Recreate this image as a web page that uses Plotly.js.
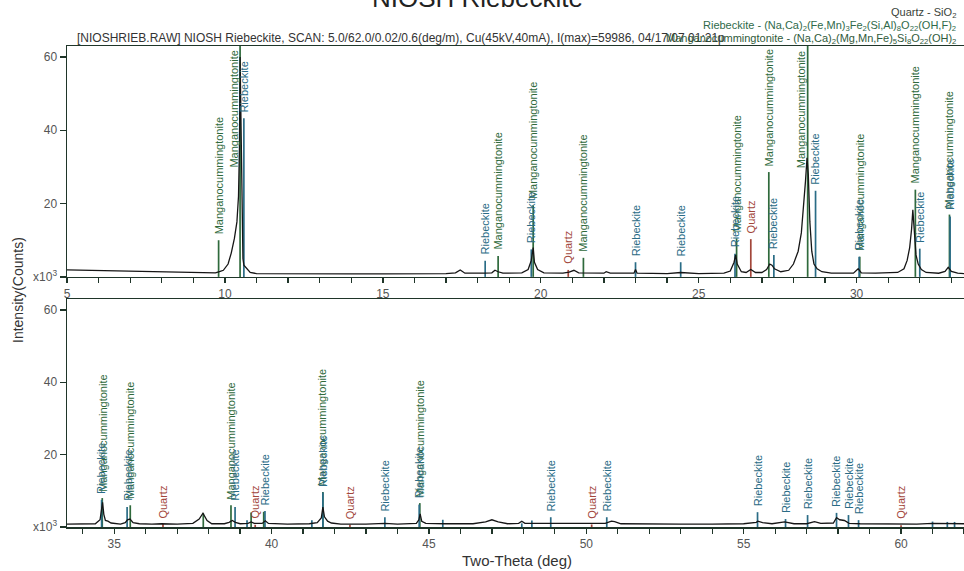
<!DOCTYPE html>
<html>
<head>
<meta charset="utf-8">
<script src="https://cdn.plot.ly/plotly-3.0.1.min.js"></script>
<style>html,body{margin:0;padding:0;background:#fff;}#chart{width:964px;height:571px;}</style>
</head>
<body>
<div id="chart"></div>
<script>
// Measured pattern: two-theta (deg) and intensity (x10^3 counts)
const tth = [5.0,6.0,7.0,8.0,9.0,9.7,9.85,9.95,10.1,10.2,10.3,10.38,10.43,10.46,10.48,10.51,10.54,10.57,10.6,10.66,10.72,10.8,11.0,12.0,13.0,14.0,15.0,16.0,17.0,17.3,17.45,17.6,18.0,18.22,18.45,18.55,18.65,18.8,19.4,19.6,19.7,19.76,19.8,19.9,20.1,20.7,20.9,21.05,21.2,21.5,22.0,22.07,22.2,22.95,23.0,23.05,24.0,24.43,25.0,25.8,26.0,26.12,26.17,26.22,26.35,26.5,26.65,26.8,27.0,27.15,27.25,27.32,27.4,27.6,27.85,28.0,28.15,28.25,28.32,28.38,28.43,28.47,28.52,28.58,28.65,28.75,28.9,29.2,29.5,29.9,30.05,30.15,30.6,31.0,31.3,31.5,31.6,31.68,31.74,31.78,31.82,31.88,31.95,32.05,32.2,32.6,32.8,32.9,33.0,33.2,33.5,34.0,34.4,34.55,34.6,34.63,34.67,34.72,34.8,34.9,35.2,35.35,35.42,35.5,35.6,35.8,36.2,36.5,37.0,37.5,37.7,37.82,37.95,38.1,38.5,38.65,38.75,38.85,39.0,39.25,39.35,39.45,39.7,39.8,39.9,40.5,41.2,41.45,41.58,41.63,41.68,41.78,41.9,42.2,43.0,43.6,44.0,44.6,44.68,44.72,44.77,44.9,45.5,46.4,46.8,47.0,47.2,47.5,47.85,47.95,48.05,48.3,48.87,49.5,50.2,50.6,50.8,50.9,51.1,52.0,53.0,54.0,55.0,55.4,55.45,55.6,55.9,56.3,56.4,56.6,57.0,57.25,57.45,57.85,57.95,58.05,58.2,58.35,58.7,59.5,60.5,61.0,61.5,62.0];
const cnt = [1.9,1.7,1.5,1.3,1.2,1.1,1.5,1.8,3.5,6.5,10.5,15,22,35,60,40,15,5,3.2,2.6,1.8,1.2,0.9,0.8,0.8,0.8,0.8,0.8,0.9,1.1,1.9,1.0,0.9,1.0,1.1,1.8,1.4,1.0,1.1,2.0,4.5,8,4,2.0,1.1,1.0,1.3,1.8,1.1,1.0,1.0,1.4,1.0,1.0,2.0,1.0,0.9,1.2,0.9,1.0,1.6,4,6,3.5,1.4,1.2,2.0,1.2,1.2,2.0,3.5,3.2,2.2,1.4,1.8,3.5,7,12,19,26,32.5,28,15,7,3.5,2.2,1.4,1.0,1.0,1.0,2.2,1.1,1.0,1.0,1.2,2.2,4.5,8,13,18.3,14,6,3.5,2.0,1.2,1.0,1.5,2.6,1.5,1.0,0.8,0.8,0.9,2.0,5,6.8,3.5,1.8,1.6,1.1,0.8,1.2,2.0,2.2,1.2,0.9,0.8,0.9,0.8,1.0,2.2,3.8,1.8,0.9,0.9,1.3,1.8,1.3,0.9,1.0,1.4,1.0,1.0,1.7,1.0,0.8,0.9,1.2,2.5,5.5,2.8,1.6,1.1,0.8,0.8,1.0,0.8,1.0,2.0,3.6,1.6,1.0,0.9,0.9,1.4,2.0,1.4,0.9,1.0,1.6,1.0,1.0,1.0,0.8,0.8,1.0,1.6,1.5,0.9,0.8,0.8,0.8,0.9,1.3,1.6,1.2,0.9,1.4,1.3,0.9,0.9,1.5,1.0,1.1,2.6,2.0,1.8,1.0,0.9,0.8,0.8,1.0,1.0,0.9];

// Reference stick patterns (two-theta, relative height in x10^3 scale, labelled?)
const mangTT  = [9.80,10.48,18.65,19.76,21.35,26.20,27.22,28.45,30.10,31.86,32.94,34.62,35.51,37.83,38.71,39.35,39.75,41.63,44.71];
const mangH   = [10,63,5.7,19.5,5.2,10.5,28.6,63,5.5,23.8,17,8,6,3.8,6,4,4.2,9.7,6.6];
const mangLab = [1,1,1,1,1,1,1,1,1,1,1,1,1,0,1,0,0,1,1];

const riebTT  = [10.60,18.24,19.70,23.00,24.43,26.15,27.38,28.70,30.08,32.00,32.96,34.60,35.41,38.84,39.22,39.79,41.28,41.63,43.60,44.69,45.44,47.95,48.27,48.87,50.65,55.44,56.33,57.03,57.95,58.33,58.65,61.00,61.47,61.70];
const riebH   = [43.3,4.4,7.5,4.0,4.0,6.3,6.0,23.5,5.5,7.7,16.5,7.5,5.5,5.5,1.9,4.4,1.9,9.5,2.7,6.2,2.0,1.0,1.8,2.7,2.7,4.1,2.2,3.3,3.9,3.3,1.9,1.5,1.4,1.4];
const riebLab = [1,1,1,1,1,1,1,1,1,1,1,1,1,1,0,1,0,1,1,1,0,0,0,1,1,1,1,1,1,1,1,0,0,0];

const qtzTT  = [20.87,26.65,36.55,39.48,42.49,50.17,60.00];
const qtzH   = [1.9,10.3,0.8,0.6,0.6,0.7,0.5];
const qtzLab = [1,1,1,1,1,1,1];

const xTickVals = [5,10,15,20,25,30,35,40,45,50,55,60];
const yTickVals = [0,20,40,60];
const yTickText = ['x10<sup>3</sup>','20','40','60'];

const FONT = 'Arial, "Liberation Sans", sans-serif';
const W = 964, H = 571, ML = 67, MR = 0, MT = 46, MB = 44;
const PH = H - MT - MB, PW = W - ML - MR;
const YMAX = 63;
const SPLIT = 33.45;
const panels = [
  {xa:'x', ya:'y', range:[5,33.4], dom:[0.52,1]},
  {xa:'x2', ya:'y2', range:[33.5,62], dom:[0,0.474]}
];

const phases = [
  {name:'Manganocummingtonite', tt:mangTT, h:mangH, lab:mangLab, color:'#2f6a3c', len:121},
  {name:'Riebeckite', tt:riebTT, h:riebH, lab:riebLab, color:'#2a6c86', len:51},
  {name:'Quartz', tt:qtzTT, h:qtzH, lab:qtzLab, color:'#a2463a', len:34}
];

const traces = [];
const annotations = [];
panels.forEach((p, pi) => {
  const ppu = (p.dom[1]-p.dom[0])*PH / YMAX;
  const panelPx = (p.dom[1]-p.dom[0])*PH;
  phases.forEach(ph => {
    const xs = [], ys = [];
    ph.tt.forEach((t, i) => {
      const inTop = t < SPLIT;
      if ((pi === 0) !== inTop) return;
      xs.push(t, t, null); ys.push(0, ph.h[i], null);
      if (ph.lab[i]) {
        let yv = ph.h[i], xs_ = 0;
        if (ph.h[i]*ppu + 4 + ph.len > panelPx) { yv = YMAX - (ph.len+3)/ppu; xs_ = -7; }
        annotations.push({xref:p.xa, yref:p.ya, x:t, y:yv, text:ph.name, textangle:-90,
          showarrow:false, xanchor:'center', yanchor:'bottom', yshift: xs_ ? 0 : 4, xshift:xs_,
          font:{family:FONT, size:11, color:ph.color}});
      }
    });
    traces.push({x:xs, y:ys, xaxis:p.xa, yaxis:p.ya, mode:'lines', hoverinfo:'skip',
      line:{color:ph.color, width:1.7}, showlegend:false});
  });
});
panels.forEach(p => {
  traces.push({x:tth, y:cnt, xaxis:p.xa, yaxis:p.ya, mode:'lines', line:{color:'#161616', width:1.3}, showlegend:false});
});

const px = v => (v - ML)/PW;
const py = v => (H - MB - v)/PH;

annotations.push(
  {xref:'paper', yref:'paper', x:px(477), y:py(-2), text:'NIOSH Riebeckite', showarrow:false, xanchor:'center', yanchor:'middle', font:{family:FONT, size:26, color:'#222'}},
  {xref:'paper', yref:'paper', x:px(75), y:py(38), text:'[NIOSHRIEB.RAW] NIOSH Riebeckite, SCAN: 5.0/62.0/0.02/0.6(deg/m), Cu(45kV,40mA), I(max)=59986, 04/17/07 01:21p', showarrow:false, xanchor:'left', yanchor:'middle', font:{family:FONT, size:12, color:'#333'}},
  {xref:'paper', yref:'paper', x:px(958), y:py(13), text:'Quartz - SiO<sub>2</sub>', showarrow:false, xanchor:'right', yanchor:'middle', font:{family:FONT, size:11, color:'#3a443a'}},
  {xref:'paper', yref:'paper', x:px(958), y:py(26), text:'Riebeckite - (Na,Ca)<sub>2</sub>(Fe,Mn)<sub>3</sub>Fe<sub>2</sub>(Si,Al)<sub>8</sub>O<sub>22</sub>(OH,F)<sub>2</sub>', showarrow:false, xanchor:'right', yanchor:'middle', font:{family:FONT, size:11, color:'#2f6a4a'}},
  {xref:'paper', yref:'paper', x:px(958), y:py(39), text:'Manganocummingtonite - (Na,Ca)<sub>2</sub>(Mg,Mn,Fe)<sub>5</sub>Si<sub>8</sub>O<sub>22</sub>(OH)<sub>2</sub>', showarrow:false, xanchor:'right', yanchor:'middle', font:{family:FONT, size:11, color:'#2f5a3a'}},
  {xref:'paper', yref:'paper', x:px(18), y:py(290), text:'Intensity(Counts)', textangle:-90, showarrow:false, xanchor:'center', yanchor:'middle', font:{family:FONT, size:14, color:'#333'}},
  {xref:'paper', yref:'paper', x:px(517), y:py(560), text:'Two-Theta (deg)', showarrow:false, xanchor:'center', yanchor:'middle', font:{family:FONT, size:15, color:'#333'}}
);

const AXC = '#1f3529';
function xaxis(p) {
  return {domain:[0,1], anchor:p.ya, range:p.range, showgrid:false, zeroline:false,
    showline:true, linecolor:AXC, linewidth:1.5, mirror:true,
    ticks:'outside', ticklen:5, tickwidth:1.3, tickcolor:AXC, tickvals:xTickVals,
    minor:{dtick:1, ticks:'outside', ticklen:5, tickwidth:1.3, tickcolor:AXC, showgrid:false},
    tickfont:{family:FONT, size:12, color:'#555'}, fixedrange:true};
}
function yaxis(p) {
  return {domain:p.dom, anchor:p.xa, range:[0,YMAX], showgrid:false, zeroline:false,
    showline:true, linecolor:AXC, linewidth:1.5, mirror:false,
    ticks:'outside', ticklen:6, tickwidth:1.3, tickcolor:AXC,
    tickvals:yTickVals, ticktext:yTickText, tickfont:{family:FONT, size:12, color:'#555'}, fixedrange:true};
}

const layout = {
  width:W, height:H, margin:{l:ML, r:MR, t:MT, b:MB}, paper_bgcolor:'#fff', plot_bgcolor:'#fff',
  showlegend:false, font:{family:FONT},
  xaxis:xaxis(panels[0]), yaxis:yaxis(panels[0]),
  xaxis2:xaxis(panels[1]), yaxis2:yaxis(panels[1]),
  annotations:annotations
};
Plotly.newPlot('chart', traces, layout, {displayModeBar:false, staticPlot:true});
</script>
</body>
</html>
